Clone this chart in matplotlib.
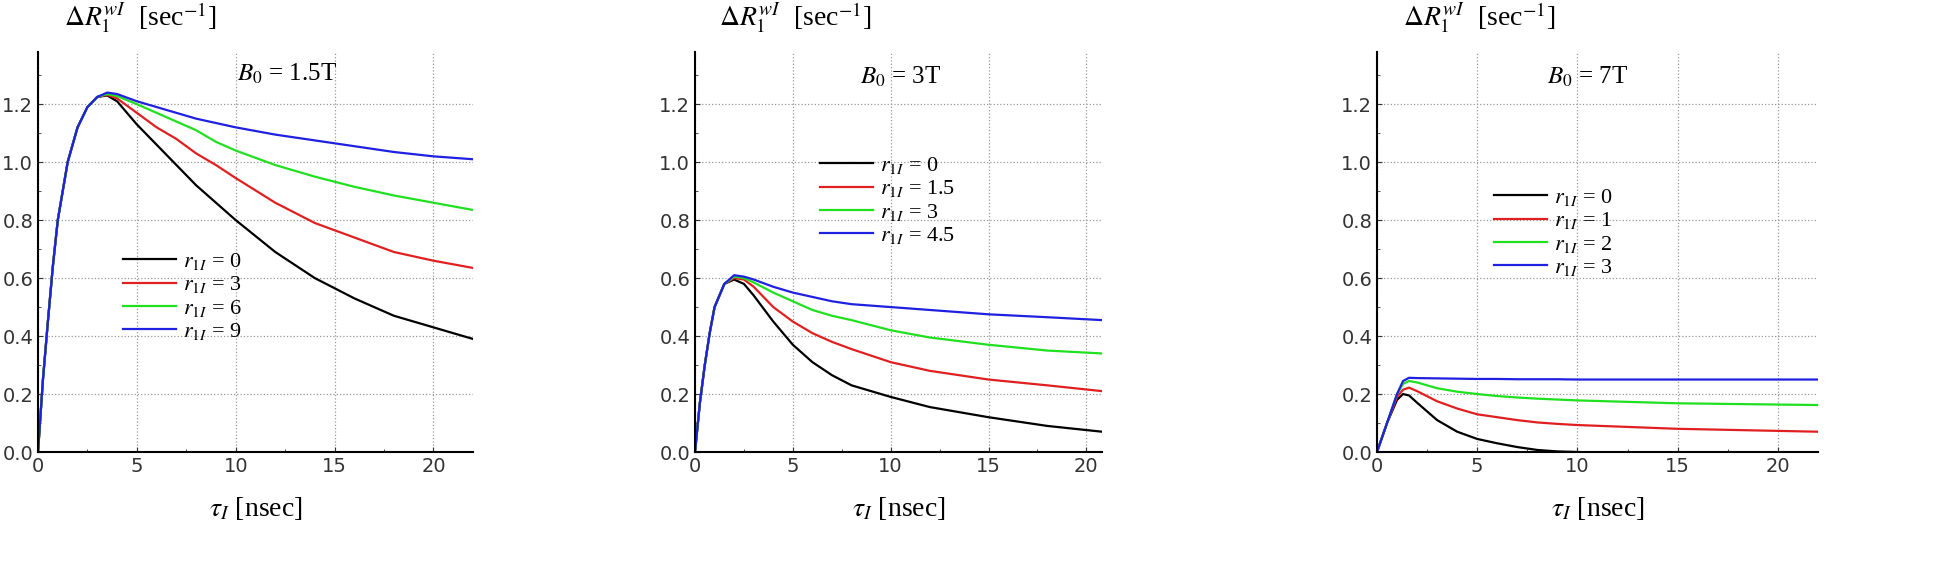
import matplotlib.pyplot as plt
from matplotlib.ticker import MultipleLocator

plt.rcParams['mathtext.fontset'] = 'stix'
plt.rcParams['font.family'] = 'Liberation Serif'

# panel 1: B0 = 1.5T
x1 = [0, 0.25, 0.5, 0.75, 1, 1.5, 2, 2.5, 3, 3.5, 4, 5, 6, 7, 8, 9, 10, 12, 14, 16, 18, 20, 22]
rise1 = [0, 0.25, 0.45, 0.64, 0.8, 1.0, 1.12, 1.19, 1.225]
p1_black = rise1 + [1.23, 1.21, 1.13, 1.06, 0.99, 0.92, 0.86, 0.8, 0.69, 0.6, 0.53, 0.47, 0.43, 0.39]
p1_red = rise1 + [1.232, 1.22, 1.17, 1.12, 1.08, 1.03, 0.99, 0.945, 0.86, 0.79, 0.74, 0.69, 0.66, 0.635]
p1_green = rise1 + [1.235, 1.228, 1.2, 1.17, 1.14, 1.11, 1.07, 1.04, 0.99, 0.95, 0.915, 0.885, 0.86, 0.835]
p1_blue = rise1 + [1.24, 1.235, 1.21, 1.19, 1.17, 1.15, 1.135, 1.12, 1.095, 1.075, 1.055, 1.035, 1.02, 1.01]

# panel 2: B0 = 3T
x2 = [0, 0.25, 0.5, 0.75, 1, 1.5, 2, 2.5, 3, 4, 5, 6, 7, 8, 10, 12, 15, 18, 20.8]
rise2 = [0, 0.17, 0.3, 0.41, 0.5, 0.58]
p2_black = rise2 + [0.595, 0.58, 0.54, 0.45, 0.37, 0.31, 0.265, 0.23, 0.19, 0.155, 0.12, 0.09, 0.07]
p2_red = rise2 + [0.6, 0.595, 0.57, 0.5, 0.45, 0.41, 0.38, 0.355, 0.31, 0.28, 0.25, 0.23, 0.21]
p2_green = rise2 + [0.605, 0.6, 0.585, 0.55, 0.52, 0.49, 0.47, 0.455, 0.42, 0.395, 0.37, 0.35, 0.34]
p2_blue = rise2 + [0.61, 0.605, 0.595, 0.57, 0.55, 0.535, 0.52, 0.51, 0.5, 0.49, 0.475, 0.465, 0.455]

# panel 3: B0 = 7T
x3 = [0, 0.5, 1, 1.3, 1.6, 2, 3, 4, 5, 6, 7, 8, 9, 10, 15, 22]
p3_black = [0, 0.1, 0.18, 0.2, 0.195, 0.17, 0.11, 0.07, 0.045, 0.03, 0.017, 0.007, 0.002, 0.0, -0.01, -0.02]
p3_red = [0, 0.1, 0.19, 0.215, 0.222, 0.21, 0.175, 0.15, 0.13, 0.12, 0.11, 0.102, 0.097, 0.093, 0.08, 0.07]
p3_green = [0, 0.1, 0.2, 0.235, 0.245, 0.24, 0.22, 0.208, 0.2, 0.193, 0.188, 0.184, 0.181, 0.178, 0.168, 0.162]
p3_blue = [0, 0.1, 0.2, 0.245, 0.256, 0.255, 0.254, 0.253, 0.252, 0.252, 0.251, 0.251, 0.251, 0.25, 0.25, 0.25]

colors = ['black', '#e02020', '#20e020', '#2020e0']
panels = [
    (x1, [p1_black, p1_red, p1_green, p1_blue], ['0', '3', '6', '9'], '1.5', 22,
     [38, 435], (12.6, 1.28), (0.17, 0.53)),
    (x2, [p2_black, p2_red, p2_green, p2_blue], ['0', '1.5', '3', '4.5'], '3', 20.8,
     [695, 407], (10.5, 1.27), (0.28, 0.77)),
    (x3, [p3_black, p3_red, p3_green, p3_blue], ['0', '1', '2', '3'], '7', 22,
     [1377, 441], (10.5, 1.27), (0.24, 0.69)),
]

fig = plt.figure(figsize=(19.42, 5.71), dpi=100)
W, H = 1942, 571
for x, ys, labs, b0, xmax, (left, width), btxt, lpos in panels:
    ax = fig.add_axes([left / W, (H - 452) / H, width / W, 400 / H])
    for y, c, lab in zip(ys, colors, labs):
        ax.plot(x, y, color=c, lw=1.6, label=r'$r_{1I}$ = ' + lab)
    ax.set_xlim(0, xmax)
    ax.set_ylim(0, 1.38)
    ax.xaxis.set_major_locator(MultipleLocator(5))
    ax.xaxis.set_minor_locator(MultipleLocator(2.5))
    ax.yaxis.set_major_locator(MultipleLocator(0.2))
    ax.yaxis.set_minor_locator(MultipleLocator(0.1))
    ax.grid(True, which='major', ls=':', color='#999999', lw=0.9)
    for s in ['top', 'right']:
        ax.spines[s].set_visible(False)
    ax.spines['left'].set_linewidth(1.5)
    ax.spines['bottom'].set_linewidth(1.5)
    ax.tick_params(which='both', direction='in', labelsize=14, colors='#333333')
    for lbl in ax.get_xticklabels() + ax.get_yticklabels():
        lbl.set_family('DejaVu Sans')
    ax.set_xlabel(r'$\tau_I$ [nsec]', fontsize=20, labelpad=14)
    ax.text(0.06, 1.085, r'$\Delta R_1^{wI}$  [sec$^{-1}$]', transform=ax.transAxes,
            fontsize=20, ha='left', va='center')
    ax.text(btxt[0], btxt[1], r'$B_0$ = ' + b0 + 'T', fontsize=18, ha='center')
    ax.legend(loc='upper left', bbox_to_anchor=lpos, frameon=False, fontsize=16,
              handlelength=2.4, labelspacing=0.1, handletextpad=0.3, borderpad=0)

fig.savefig('out.png', dpi=100)
